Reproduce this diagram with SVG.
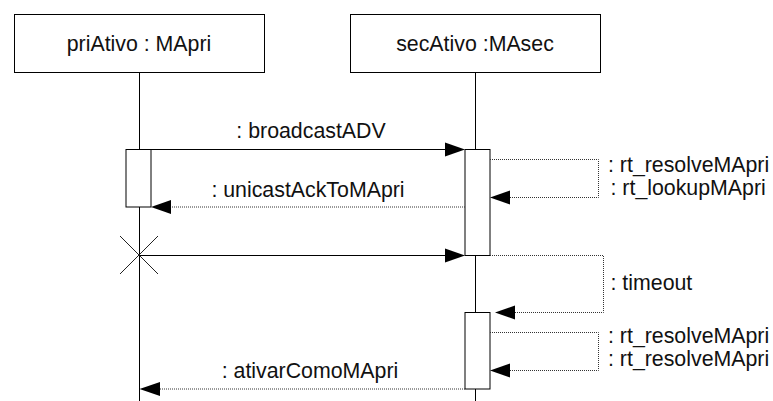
<svg xmlns="http://www.w3.org/2000/svg" width="773" height="401" viewBox="0 0 773 401">
<style>
text{font-family:"Liberation Sans",Arial,sans-serif;font-size:21.33px;fill:#111}
.m{text-anchor:middle}
.box{fill:#fff;stroke:#000;stroke-width:1}
.life{stroke:#000;stroke-width:1;fill:none}
.act{fill:#fff;stroke:#000;stroke-width:1}
.sol{stroke:#000;stroke-width:1;fill:none}
.dot{stroke:#333;stroke-width:1;fill:none;stroke-dasharray:1 1}
.head{fill:#000;stroke:none}
.x{stroke:#222;stroke-width:1}
</style>
<g id="priAtivo">
<rect class="box" x="14.5" y="14.5" width="250" height="58"/>
<text class="m" x="139" y="50.5">priAtivo : MApri</text>
<line class="life" x1="139.5" y1="72.5" x2="139.5" y2="401"/>
</g>
<g id="secAtivo">
<rect class="box" x="350.5" y="14.5" width="250" height="58"/>
<text class="m" x="475" y="50.5">secAtivo :MAsec</text>
<line class="life" x1="475.5" y1="72.5" x2="475.5" y2="401"/>
</g>
<g id="activations">
<rect class="act" x="126" y="149.5" width="25" height="57.5"/>
<rect class="act" x="465" y="149.5" width="25" height="106"/>
<rect class="act" x="465" y="312.5" width="25" height="76.5"/>
</g>
<g id="destroy">
<line class="x" x1="120" y1="236" x2="158" y2="274"/>
<line class="x" x1="158" y1="236" x2="120" y2="274"/>
</g>
<g id="connectors">
<line class="sol" x1="151" y1="149.5" x2="446" y2="149.5"/>
<polygon class="head" points="465,149.5 445,142.5 445,156.5"/>
<text class="m" x="311" y="138">: broadcastADV</text>

<line class="dot" x1="465" y1="207" x2="170" y2="207"/>
<polygon class="head" points="151,207 171,200 171,214"/>
<text class="m" x="308" y="196.5">: unicastAckToMApri</text>

<line class="sol" x1="139.5" y1="255.5" x2="446" y2="255.5"/>
<polygon class="head" points="465,255.5 445,248.5 445,262.5"/>

<polyline class="dot" points="490,159.5 598.5,159.5 598.5,197.5 509,197.5"/>
<polygon class="head" points="490,197.5 510,190.5 510,204.5"/>
<text x="608" y="172">: rt_resolveMApri</text>
<text x="610.5" y="195">: rt_lookupMApri</text>

<polyline class="dot" points="490,255.5 603.5,255.5 603.5,312.5 514,312.5"/>
<polygon class="head" points="495,312.5 515,305.5 515,319.5"/>
<text x="610.5" y="290">: timeout</text>

<polyline class="dot" points="490,332.5 598.5,332.5 598.5,370.5 509,370.5"/>
<polygon class="head" points="490,370.5 510,363.5 510,377.5"/>
<text x="608" y="343">: rt_resolveMApri</text>
<text x="608" y="366">: rt_resolveMApri</text>

<line class="dot" x1="465" y1="389" x2="159" y2="389"/>
<polygon class="head" points="139.5,389 160,382 160,396"/>
<text class="m" x="310" y="378">: ativarComoMApri</text>
</g>
</svg>
